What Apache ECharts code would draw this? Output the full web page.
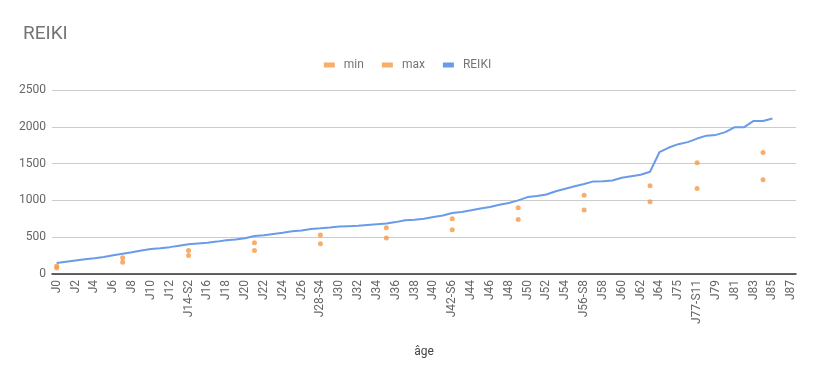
<!DOCTYPE html>
<html>
<head>
<meta charset="utf-8">
<script src="https://cdn.jsdelivr.net/npm/echarts@6/dist/echarts.min.js"></script>
<style>
  html, body { margin: 0; padding: 0; background: #fff; }
  #chart { width: 815px; height: 377px; }
</style>
</head>
<body>
<div id="chart"></div>
<script>
// days (J = jour, S = semaine)
var categories = [];
for (var d = 0; d <= 64; d++) {
	if (d == 14) categories.push('J14-S2');
	else if (d == 28) categories.push('J28-S4');
	else if (d == 42) categories.push('J42-S6');
	else if (d == 56) categories.push('J56-S8');
	else categories.push('J' + d);
}
var lateDays = ['J74', 'J75', 'J76', 'J77-S11', 'J78', 'J79', 'J80', 'J81', 'J82', 'J83', 'J84', 'J85', 'J86', 'J87'];
categories = categories.concat(lateDays);

var reikiValues = [
	150, 168, 185, 200, 215, 232, 255, 275, 295, 320,
	340, 350, 365, 385, 404, 415, 425, 440, 458, 470,
	485, 515, 526, 545, 562, 580, 590, 612, 620, 632,
	645, 650, 655, 665, 675, 685, 705, 730, 738, 750,
	775, 795, 830, 843, 865, 890, 910, 940, 965, 1000,
	1045, 1060, 1080, 1125, 1158, 1192, 1222, 1258, 1260, 1270,
	1308, 1328, 1348, 1390, 1655,
	1718, 1764, 1792, 1840, 1880, 1890, 1928, 1995, 1995, 2080, 2080, 2112, null, null
];

// weekly reference points: [category, min, max]
var refDays = ['J0', 'J7', 'J14-S2', 'J21', 'J28-S4', 'J35', 'J42-S6', 'J49', 'J56-S8', 'J63', 'J77-S11', 'J84'];
var minValues = [80, 160, 250, 320, 410, 490, 600, 740, 870, 980, 1160, 1280];
var maxValues = [110, 220, 320, 425, 530, 630, 750, 900, 1070, 1200, 1510, 1650];

var minData = refDays.map(function (c, i) { return [c, minValues[i]]; });
var maxData = refDays.map(function (c, i) { return [c, maxValues[i]]; });

var orange = '#f59a47';
var blue = '#6a9be9';
var textColor = '#666666';

var mychart = echarts.init(document.getElementById('chart'));
var option = {
	animation: false,
	title: {
		text: 'REIKI',
		left: 18,
		top: 20,
		textStyle: { color: '#757575', fontSize: 19, fontWeight: 'normal', fontFamily: 'Roboto' }
	},
	legend: {
		top: 54,
		left: 'center',
		itemWidth: 11,
		itemHeight: 5,
		itemGap: 18,
		icon: 'rect',
		textStyle: { color: '#757575', fontSize: 12, fontFamily: 'Roboto', padding: [0, 0, 0, 4] },
		data: ['min', 'max', 'REIKI']
	},
	grid: { left: 52, right: 19, top: 90, bottom: 103 },
	xAxis: {
		type: 'category',
		data: categories,
		name: 'âge',
		nameLocation: 'middle',
		nameGap: 72,
		nameTextStyle: { color: '#444', fontSize: 12, fontFamily: 'Roboto' },
		axisLine: { lineStyle: { color: '#333', width: 1.5 } },
		axisTick: { show: false },
		axisLabel: { interval: 1, rotate: 90, color: textColor, fontSize: 12, fontFamily: 'Roboto', margin: 6 }
	},
	yAxis: {
		type: 'value',
		min: 0,
		max: 2500,
		interval: 500,
		axisLine: { show: false },
		axisTick: { show: false },
		axisLabel: {
			color: textColor, fontSize: 12, fontFamily: 'Roboto', margin: 6,
			formatter: function (v) { return String(v); }
		},
		splitLine: { lineStyle: { color: '#cccccc' } }
	},
	series: [
		{
			name: 'min',
			type: 'scatter',
			data: minData,
			symbolSize: 5,
			itemStyle: { color: orange }
		},
		{
			name: 'max',
			type: 'scatter',
			data: maxData,
			symbolSize: 5,
			itemStyle: { color: orange }
		},
		{
			name: 'REIKI',
			type: 'line',
			data: reikiValues,
			showSymbol: false,
			lineStyle: { color: blue, width: 2 },
			itemStyle: { color: blue }
		}
	]
};
mychart.setOption(option);
</script>
</body>
</html>
